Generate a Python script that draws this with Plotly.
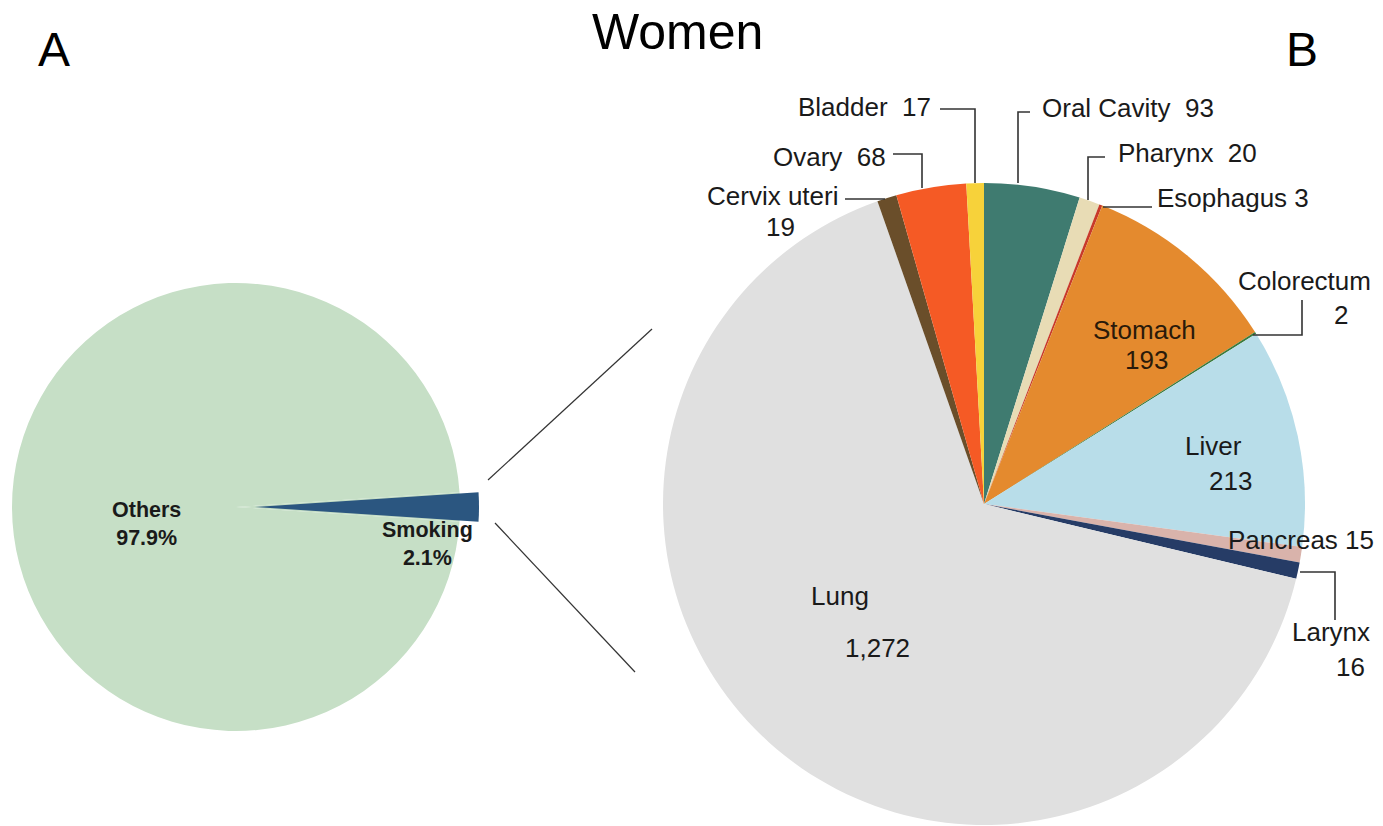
import plotly.graph_objects as go

W, H = 1383, 826

# ---------------- data ----------------
# Panel A: share of cancer deaths attributable to smoking (women)
a_labels = ["Smoking", "Others"]
a_values = [2.1, 97.9]
a_colors = ["#2b5680", "#c6dfc6"]

# Panel B: attributable deaths by site
b_labels = ["Oral Cavity", "Pharynx", "Esophagus", "Stomach", "Colorectum", "Liver",
            "Pancreas", "Larynx", "Lung", "Cervix uteri", "Ovary", "Bladder"]
b_values = [93, 20, 3, 193, 2, 213, 15, 16, 1272, 19, 68, 17]
b_colors = ["#3f7b70", "#e8dcb5", "#c83a2a", "#e48a2e", "#3b7a3b", "#b8dde9",
            "#d9b3ab", "#263c66", "#e0e0e0", "#6a4e2a", "#f55a25", "#f7d23a"]

title_text = "Women"
panel_letters = ["A", "B"]


# ---------------- helpers ----------------
def fx(x):
    return x / W


def fy(y):
    return 1 - y / H


def dom(cx, cy, r):
    return dict(x=[fx(cx - r), fx(cx + r)], y=[fy(cy + r), fy(cy - r)])


FONT = "Liberation Sans, Arial, sans-serif"

# left pie geometry (pixels)
A_CX, A_CY, A_R, A_PULL = 236, 507, 224, 19
smoke_share = a_values[0] / sum(a_values)
a_rotation = 90 - smoke_share * 360 / 2

fig = go.Figure()

# base disc of panel A (whole pie in the "Others" colour)
fig.add_trace(go.Pie(
    labels=a_labels, values=a_values, sort=False, direction="clockwise",
    rotation=a_rotation, domain=dom(A_CX, A_CY, A_R),
    marker=dict(colors=[a_colors[1], a_colors[1]], line=dict(width=0)),
    textinfo="none", hoverinfo="label+percent", showlegend=False,
))
# exploded smoking slice
fig.add_trace(go.Pie(
    labels=a_labels, values=a_values, sort=False, direction="clockwise",
    rotation=a_rotation, domain=dom(A_CX + A_PULL, A_CY, A_R),
    marker=dict(colors=[a_colors[0], "rgba(0,0,0,0)"], line=dict(width=0)),
    textinfo="none", hoverinfo="skip", showlegend=False,
))

# panel B pie
fig.add_trace(go.Pie(
    labels=b_labels, values=b_values, sort=False, direction="clockwise",
    rotation=0, domain=dom(984, 504, 321),
    marker=dict(colors=b_colors, line=dict(width=0)),
    textinfo="none", hoverinfo="label+value", showlegend=False,
))

annotations = []


def ann(text, x, y, xanchor="center", size=26, color="#1a1a1a", bold=False):
    if bold:
        text = "<b>" + text + "</b>"
    annotations.append(dict(
        text=text, x=fx(x), y=fy(y), xref="paper", yref="paper",
        xanchor=xanchor, yanchor="middle", showarrow=False,
        font=dict(family=FONT, size=size, color=color),
    ))


# titles
ann(title_text, 677, 32, size=50, color="#000000")
ann(panel_letters[0], 54, 50, size=48, color="#000000")
ann(panel_letters[1], 1302, 50, size=48, color="#000000")

# panel A labels
ann(f"{a_labels[1]}<br>{a_values[1]}%", 146, 524, size=21.5, color="#1a1a1a", bold=True)
ann(f"{a_labels[0]}<br>{a_values[0]}%", 427, 544, size=21.5, color="#1a1a1a", bold=True)

v = dict(zip(b_labels, b_values))

# panel B labels
ann(f"Bladder  {v['Bladder']}", 933, 107, xanchor="right")
ann(f"Ovary  {v['Ovary']}", 888, 157, xanchor="right")
ann("Cervix uteri", 840, 196, xanchor="right")
ann(f"{v['Cervix uteri']}", 780, 227)
ann(f"Oral Cavity  {v['Oral Cavity']}", 1040, 108, xanchor="left")
ann(f"Pharynx  {v['Pharynx']}", 1116, 153, xanchor="left")
ann(f"Esophagus {v['Esophagus']}", 1155, 198, xanchor="left")
ann("Colorectum", 1304, 281)
ann(f"{v['Colorectum']}", 1341, 315)
ann("Stomach", 1144, 330, color="#2a1a0a")
ann(f"{v['Stomach']}", 1146, 360, color="#2a1a0a")
ann("Liver", 1213, 446)
ann(f"{v['Liver']}", 1230, 481)
ann(f"Pancreas {v['Pancreas']}", 1226, 540, xanchor="left")
ann("Larynx", 1331, 632)
ann(f"{v['Larynx']}", 1350, 667)
ann("Lung", 840, 596)
ann(f"{v['Lung']:,}", 877, 648)

# leader lines and connector lines (pixel polylines)
leaders = [
    [(975, 183), (975, 109), (940, 109)],
    [(922, 188), (922, 154), (893, 154)],
    [(885, 199), (845, 199)],
    [(1018, 183), (1018, 112), (1030, 112)],
    [(1088, 200), (1088, 157), (1105, 157)],
    [(1103, 207), (1152, 207)],
    [(1253, 335), (1302, 335), (1302, 300)],
    [(1300, 572), (1335, 572), (1335, 620)],
]
connectors = [
    [(488, 480), (652, 329)],
    [(495, 523), (635, 672)],
]

shapes = []
for pts, w in [(p, 1.6) for p in leaders] + [(p, 1.2) for p in connectors]:
    path = "M " + " L ".join(f"{fx(x):.5f},{fy(y):.5f}" for x, y in pts)
    shapes.append(dict(type="path", path=path, xref="paper", yref="paper",
                       line=dict(color="#333333", width=w)))

fig.update_layout(
    width=W, height=H,
    margin=dict(l=0, r=0, t=0, b=0),
    paper_bgcolor="white", plot_bgcolor="white",
    annotations=annotations, shapes=shapes,
    showlegend=False,
)

fig.write_html(
    "out.html",
    config={"displayModeBar": False},
    post_script="document.body.style.margin='0';document.body.style.overflow='hidden';",
)
